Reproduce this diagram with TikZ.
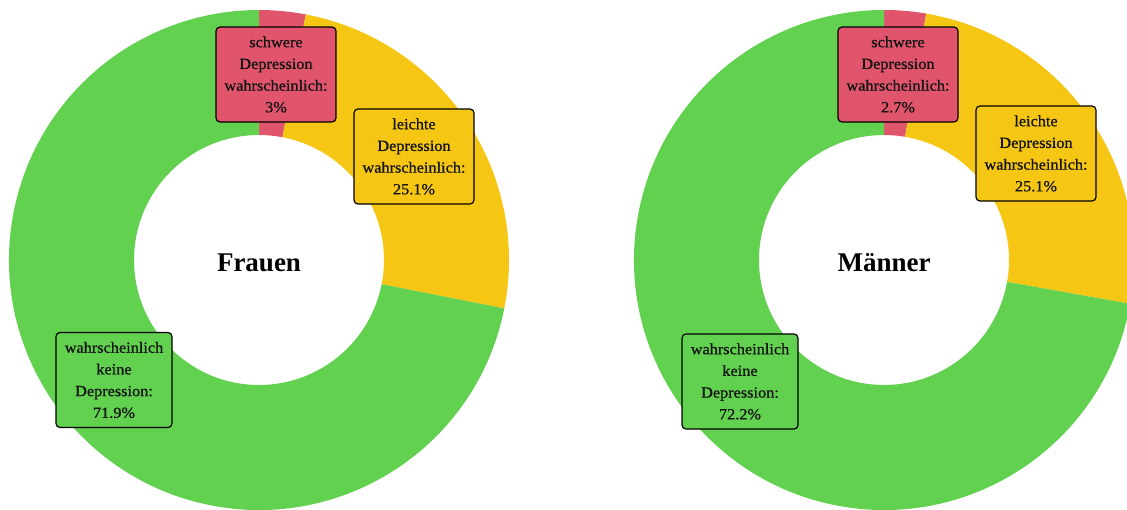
\documentclass[tikz,border=0pt]{standalone}
\usepackage{fontspec}
\setmainfont{Liberation Serif}
\newfontfamily\lblfont[FakeBold=0.8,FakeStretch=1.05]{Liberation Serif}
\usetikzlibrary{calc}
\definecolor{cgreen}{RGB}{98,209,80}
\definecolor{cred}{RGB}{224,85,108}
\definecolor{cyellow}{RGB}{245,199,20}
\definecolor{ctext}{RGB}{20,20,20}
\tikzset{
  lbl/.style={draw=black, line width=1.2pt, rounded corners=4pt, align=center,
    text=ctext, inner sep=0pt, minimum width=120pt, minimum height=95pt,
    font=\lblfont\fontsize{15.5}{21.7}\selectfont},
  ttl/.style={font=\bfseries\fontsize{27}{30}\selectfont, text=black},
}
\newcommand{\ring}[4]{% center, start, end, color
  \fill[#4] ($(#1)+(#2:250pt)$) arc[start angle=#2, end angle=#3, radius=250pt]
    -- ($(#1)+(#3:125pt)$) arc[start angle=#3, end angle=#2, radius=125pt] -- cycle;}
\begin{document}
\begin{tikzpicture}
\useasboundingbox (0,0) rectangle (1127pt,-509pt);
\clip (0,0) rectangle (1127pt,-509pt);
\fill[white] (0,0) rectangle (1127pt,-509pt);
\coordinate (cL) at (259pt,-260pt);
\coordinate (cR) at (884pt,-260pt);
% left: 3%, 25.1%, 71.9%
\ring{cL}{90}{79.2}{cred}
\ring{cL}{79.2}{-11.16}{cyellow}
\ring{cL}{-11.16}{-270}{cgreen}
% right: 2.7%, 25.1%, 72.2%
\ring{cR}{90}{80.28}{cred}
\ring{cR}{80.28}{-10.08}{cyellow}
\ring{cR}{-10.08}{-270}{cgreen}
\node[ttl, yshift=-2.5pt] (tL) at (cL) {Frauen};
\node[ttl, yshift=-2.5pt] (tR) at (cR) {Männer};
\node[lbl, fill=cred] (sL) at (276pt,-74.5pt) {schwere\\Depression\\wahrscheinlich:\\3\%};
\node[lbl, fill=cyellow] (lL) at (414pt,-156.5pt) {leichte\\Depression\\wahrscheinlich:\\25.1\%};
\node[lbl, fill=cgreen, minimum width=116pt] (kL) at (114pt,-380pt) {wahrscheinlich\\keine\\Depression:\\71.9\%};
\node[lbl, fill=cred] (sR) at (898pt,-74.5pt) {schwere\\Depression\\wahrscheinlich:\\2.7\%};
\node[lbl, fill=cyellow] (lR) at (1036pt,-153.5pt) {leichte\\Depression\\wahrscheinlich:\\25.1\%};
\node[lbl, fill=cgreen, minimum width=116pt] (kR) at (740pt,-381.5pt) {wahrscheinlich\\keine\\Depression:\\72.2\%};
\end{tikzpicture}
\end{document}
